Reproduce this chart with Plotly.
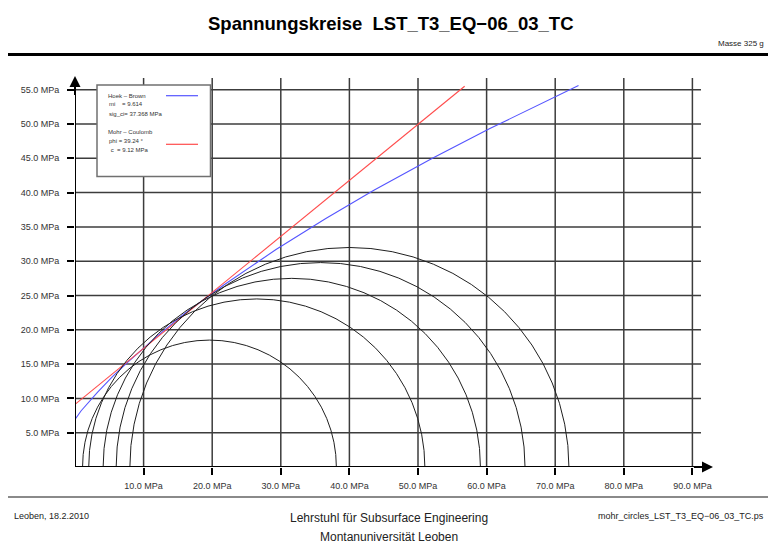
import plotly.graph_objects as go

# ---------------- data ----------------
sigma3 = [1.1, 2.0, 4.1, 6.0, 8.0]          # MPa, left end of each Mohr circle
sigma1 = [38.1, 51.0, 59.1, 65.6, 72.0]     # MPa, right end of each Mohr circle

hb_sigma = [0.0, 0.9, 3.3, 5.5, 7.7, 11.9, 15.9, 21.8, 29.3, 36.5, 43.5, 52.1, 60.4, 67.0, 73.4]
hb_tau = [6.95, 8.2, 10.9, 13.2, 15.3, 19.0, 22.3, 26.6, 31.7, 36.2, 40.3, 45.0, 49.3, 52.5, 55.6]

mc_sigma = [0.0, 56.8]
mc_tau = [9.12, 55.5]

x_ticks = [10, 20, 30, 40, 50, 60, 70, 80, 90]
y_ticks = [5, 10, 15, 20, 25, 30, 35, 40, 45, 50, 55]
x_ticktext = [f"{v:.1f} MPa" for v in x_ticks]
y_ticktext = [f"{v:.1f} MPa" for v in y_ticks]

title = "Spannungskreise  LST_T3_EQ\u221206_03_TC"
mass_text = "Masse 325 g"
footer_left = "Leoben, 18.2.2010"
footer_center_1 = "Lehrstuhl für Subsurface Engineering"
footer_center_2 = "Montanuniversität Leoben"
footer_right = "mohr_circles_LST_T3_EQ\u221206_03_TC.ps"
legend_hb = ["Hoek \u2013 Brown", "mi    = 9.614", "sig_ci= 37.368 MPa"]
legend_mc = ["Mohr \u2013 Coulomb", "phi = 39.24 \u00b0", " c  = 9.12 MPa"]

# ---------------- layout geometry ----------------
W, H = 768, 543
L, R, T, B = 75, 52, 72, 76
Wp, Hp = W - L - R, H - T - B
SCALE = 6.86  # px per MPa
x_max = Wp / SCALE
y_max = Hp / SCALE
x_arrow, y_arrow = 93.0, 57.0
x_grid_end, y_grid_end = 91.25, 56.7

FONT = "Liberation Sans, Arial, sans-serif"


def fx(px):
    return (px - L) / Wp


def fy(py):
    return (H - B - py) / Hp


fig = go.Figure()

# envelopes
fig.add_trace(go.Scatter(x=hb_sigma, y=hb_tau, mode="lines",
                         line=dict(color="rgb(85,85,255)", width=1.1),
                         showlegend=False, hoverinfo="skip"))
fig.add_trace(go.Scatter(x=mc_sigma, y=mc_tau, mode="lines",
                         line=dict(color="rgb(255,75,75)", width=1.1),
                         showlegend=False, hoverinfo="skip"))

shapes = []
# grid lines
for xv in x_ticks:
    shapes.append(dict(type="line", xref="x", yref="y", x0=xv, x1=xv, y0=0, y1=y_grid_end,
                       line=dict(color="#3c3c3c", width=1.5), layer="below"))
for yv in y_ticks:
    shapes.append(dict(type="line", xref="x", yref="y", x0=0, x1=x_grid_end, y0=yv, y1=yv,
                       line=dict(color="#3c3c3c", width=1.5), layer="below"))

# Mohr circles (lower half clipped by the plot area)
for s3, s1 in zip(sigma3, sigma1):
    r = (s1 - s3) / 2
    shapes.append(dict(type="circle", xref="x", yref="y", x0=s3, x1=s1, y0=-r, y1=r,
                       line=dict(color="#202020", width=1)))

# axes
shapes.append(dict(type="line", xref="x", yref="y", x0=0, x1=x_arrow - 1.0, y0=0, y1=0,
                   line=dict(color="black", width=2)))
shapes.append(dict(type="line", xref="x", yref="y", x0=0, x1=0, y0=0, y1=y_arrow - 1.0,
                   line=dict(color="black", width=2)))

# header / footer rules
shapes.append(dict(type="line", xref="paper", yref="paper", x0=fx(8), x1=fx(768),
                   y0=fy(54.5), y1=fy(54.5), line=dict(color="black", width=3)))
shapes.append(dict(type="line", xref="paper", yref="paper", x0=fx(8), x1=fx(768),
                   y0=fy(497), y1=fy(497), line=dict(color="#8a8a8a", width=2)))

# legend box
shapes.append(dict(type="rect", xref="paper", yref="paper", x0=fx(97), x1=fx(210.5),
                   y0=fy(176.5), y1=fy(85), line=dict(color="#707070", width=1.5),
                   fillcolor="white", layer="above"))
shapes.append(dict(type="line", xref="paper", yref="paper", x0=fx(166), x1=fx(198),
                   y0=fy(95.7), y1=fy(95.7), line=dict(color="rgb(85,85,255)", width=1.2)))
shapes.append(dict(type="line", xref="paper", yref="paper", x0=fx(166), x1=fx(198),
                   y0=fy(144.3), y1=fy(144.3), line=dict(color="rgb(255,75,75)", width=1.2)))

annotations = []
# axis arrowheads
annotations.append(dict(x=x_arrow, y=0, ax=x_arrow - 3, ay=0, xref="x", yref="y",
                        axref="x", ayref="y", text="", showarrow=True, arrowhead=2,
                        arrowsize=1.1, arrowwidth=2, arrowcolor="black"))
annotations.append(dict(x=0, y=y_arrow, ax=0, ay=y_arrow - 3, xref="x", yref="y",
                        axref="x", ayref="y", text="", showarrow=True, arrowhead=2,
                        arrowsize=1.1, arrowwidth=2, arrowcolor="black"))


def txt(text, px, py, size, anchor="center", color="#222", weight="normal"):
    annotations.append(dict(text=text, x=fx(px), y=fy(py), xref="paper", yref="paper",
                            showarrow=False, xanchor=anchor, yanchor="middle",
                            font=dict(family=FONT, size=size, color=color, weight=weight)))


txt(title, 391, 23.5, 18.5, weight="bold", color="black")
txt(mass_text, 766, 43.5, 8, anchor="right")
txt(footer_left, 12, 516, 9, anchor="left")
txt(footer_center_1, 389, 517.5, 12, color="#222")
txt(footer_center_2, 389, 536.5, 12, color="#222")
txt(footer_right, 766, 516, 9, anchor="right")

for i, s in enumerate(legend_hb):
    txt(s, 106 if i == 0 else 107, [95.7, 104.3, 113.5][i], 6, anchor="left", color="#333")
for i, s in enumerate(legend_mc):
    txt(s, 106 if i == 0 else 107, [131.7, 141.3, 150.3][i], 6, anchor="left", color="#333")

fig.update_layout(
    width=W, height=H,
    margin=dict(l=L, r=R, t=T, b=B, pad=0),
    paper_bgcolor="white", plot_bgcolor="white",
    showlegend=False,
    shapes=shapes, annotations=annotations,
    font=dict(family=FONT, size=9, color="#333"),
    xaxis=dict(range=[0, x_max], tickmode="array", tickvals=x_ticks, ticktext=x_ticktext,
               showgrid=False, zeroline=False, showline=False,
               ticks="outside", ticklen=7, tickwidth=2, tickcolor="black",
               ticklabelstandoff=3, fixedrange=True,
               tickfont=dict(family=FONT, size=9, color="#333")),
    yaxis=dict(range=[0, y_max], tickmode="array", tickvals=y_ticks, ticktext=y_ticktext,
               showgrid=False, zeroline=False, showline=False,
               ticks="outside", ticklen=7, tickwidth=2, tickcolor="black",
               ticklabelstandoff=6, fixedrange=True,
               tickfont=dict(family=FONT, size=9, color="#333")),
)

fig.write_html("out.html")
